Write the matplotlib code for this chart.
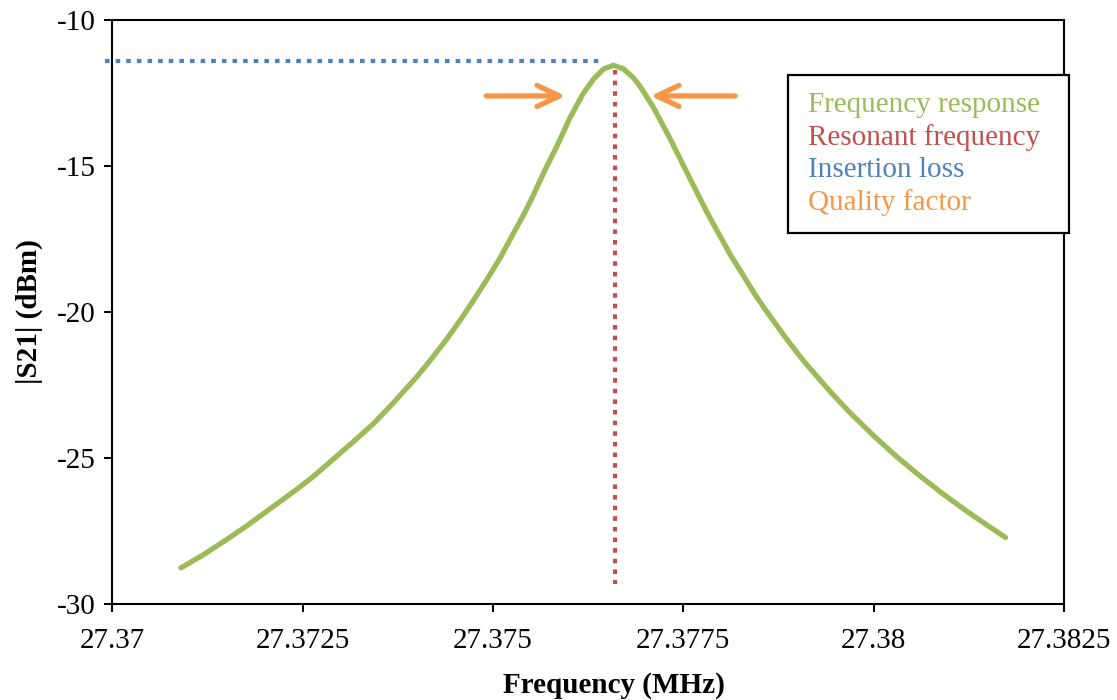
import matplotlib
matplotlib.use('Agg')
import matplotlib.pyplot as plt
from matplotlib.patches import Rectangle

# Values (eye-smoothed)
freq = [27.37090, 27.37119, 27.37150, 27.37176, 27.37207, 27.37238, 27.37264,
        27.37290, 27.37316, 27.37343, 27.37369, 27.37400, 27.37417, 27.37439,
        27.37457, 27.37474, 27.37492, 27.37509, 27.37522, 27.37540, 27.37551,
        27.37562, 27.37570, 27.37584, 27.37601, 27.37618, 27.37632, 27.37645,
        27.37658, 27.37671, 27.37684, 27.37693, 27.37711, 27.37732, 27.37754,
        27.37781, 27.37811, 27.37846, 27.37859, 27.37886, 27.37908, 27.37945,
        27.37969, 27.38000, 27.38030, 27.38061, 27.38091, 27.38122, 27.38149,
        27.38173]
s21 = [-28.76, -28.32, -27.79, -27.33, -26.74, -26.15, -25.63,
       -25.04, -24.45, -23.82, -23.11, -22.21, -21.67, -20.93,
       -20.27, -19.61, -18.88, -18.16, -17.53, -16.67, -16.10,
       -15.48, -15.04, -14.31, -13.35, -12.53, -12.02, -11.68,
       -11.55, -11.67, -11.97, -12.27, -13.01, -14.04, -15.19,
       -16.59, -18.01, -19.48, -19.97, -20.94, -21.68, -22.79,
       -23.45, -24.24, -24.95, -25.62, -26.23, -26.82, -27.30,
       -27.72]

resonant_freq = 27.3766
resonant_span = [-11.7, -29.3]
insertion_loss = -11.4
il_span = [27.3699, 27.3764]
q_level = -12.6
q_left = [27.37491, 27.37595]
q_right = [27.37818, 27.37707]

x_ticks = [27.37, 27.3725, 27.375, 27.3775, 27.38, 27.3825]
x_tick_labels = ['27.37', '27.3725', '27.375', '27.3775', '27.38', '27.3825']
y_ticks = [-30, -25, -20, -15, -10]

legend_labels = ['Frequency response', 'Resonant frequency', 'Insertion loss', 'Quality factor']

green = '#9BBB59'
red = '#C0504D'
blue = '#4F81BD'
orange = '#F79646'
legend_colors = [green, red, blue, orange]

plt.rcParams['font.family'] = ['Liberation Serif', 'DejaVu Serif']
plt.rcParams['font.size'] = 21
plt.rcParams['axes.unicode_minus'] = False

fig = plt.figure(figsize=(11.17, 7.0), dpi=100)
ax = fig.add_axes([0.1007, 0.1371, 0.8519, 0.8343])

ax.plot(freq, s21, color=green, lw=3.8, solid_capstyle='round',
        solid_joinstyle='round', zorder=3)
ax.plot([resonant_freq, resonant_freq], resonant_span, color=red, lw=3.0,
        linestyle=(0, (1.1, 1.45)), zorder=2)
ax.plot(il_span, [insertion_loss, insertion_loss], color=blue, lw=3.0,
        linestyle=(0, (1.1, 1.45)), clip_on=False, zorder=2)

for xs in (q_left, q_right):
    ax.annotate('', xy=(xs[1], q_level), xytext=(xs[0], q_level),
                arrowprops=dict(arrowstyle='->, head_length=0.8, head_width=0.38',
                                color=orange, lw=3.8, shrinkA=0, shrinkB=0,
                                mutation_scale=20, capstyle='round'))

ax.set_xlim(27.37, 27.3825)
ax.set_ylim(-30, -10)
ax.set_xticks(x_ticks)
ax.set_xticklabels(x_tick_labels)
ax.set_yticks(y_ticks)
ax.tick_params(direction='out', length=6, width=1.4, pad=6)
ax.tick_params(axis='x', pad=11)
for sp in ax.spines.values():
    sp.set_linewidth(1.5)

ax.set_xlabel('Frequency (MHz)', fontweight='bold')
ax.set_ylabel('|S21| (dBm)', fontweight='bold')
ax.xaxis.set_label_coords(0.527, -0.117)
ax.yaxis.set_label_coords(-0.073, 0.5)

# legend-like text box
box = Rectangle((0.7055, 0.6676), 0.2516, 0.2253, transform=fig.transFigure,
                facecolor='white', edgecolor='black', lw=1.6, zorder=5)
fig.add_artist(box)
for i, (lab, c) in enumerate(zip(legend_labels, legend_colors)):
    fig.text(0.7234, 0.85 - i * 0.0466, lab, color=c, va='center', ha='left',
             fontsize=21, zorder=6)

plt.savefig('out.png', dpi=100)
